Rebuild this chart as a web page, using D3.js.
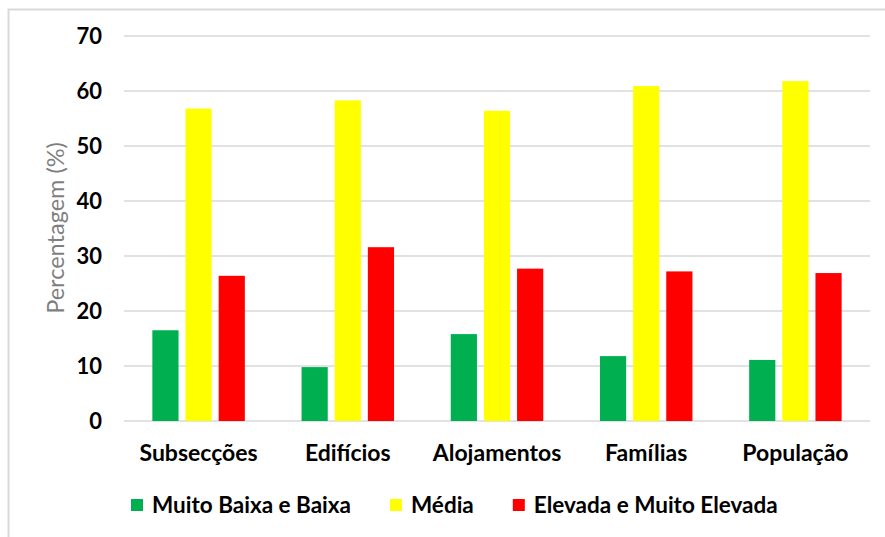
<!DOCTYPE html>
<html>
<head>
<meta charset="utf-8">
<script src="https://cdn.jsdelivr.net/npm/d3@7"></script>
<style>
  html, body { margin: 0; padding: 0; background: #fff; }
  svg { display: block; }
  text { font-family: Lato, "Open Sans", sans-serif; }
</style>
</head>
<body>
<svg id="chart" width="885" height="537"></svg>
<script>
// Categories, series and values (percent)
const categories = ["Subsecções", "Edifícios", "Alojamentos", "Famílias", "População"];
const seriesNames = ["Muito Baixa e Baixa", "Média", "Elevada e Muito Elevada"];
const seriesColors = ["#00b050", "#ffff00", "#ff0000"];
const muitoBaixaBaixa = [16.5, 9.8, 15.8, 11.8, 11.1];
const media = [56.8, 58.3, 56.4, 60.9, 61.8];
const elevadaMuitoElevada = [26.4, 31.6, 27.7, 27.2, 26.9];
const yTicks = [0, 10, 20, 30, 40, 50, 60, 70];
const yTitle = "Percentagem (%)";

const seriesValues = [muitoBaixaBaixa, media, elevadaMuitoElevada];

const svg = d3.select("#chart");

// Chart frame
svg.append("rect")
  .attr("x", 8.5).attr("y", 9.5)
  .attr("width", 900).attr("height", 560)
  .attr("fill", "#fff")
  .attr("stroke", "#d9d9d9")
  .attr("stroke-width", 2);

const plot = { left: 124, right: 870, top: 36, bottom: 421 };

const y = d3.scaleLinear().domain([0, 70]).range([plot.bottom, plot.top]);

const x0 = d3.scaleBand()
  .domain(categories)
  .range([plot.left, plot.right])
  .paddingInner(0.38)
  .paddingOuter(0.19);

const x1 = d3.scaleBand()
  .domain(d3.range(seriesNames.length))
  .range([0, x0.bandwidth()])
  .paddingInner(0.21)
  .paddingOuter(0);

// Gridlines
svg.append("g")
  .selectAll("line")
  .data(yTicks)
  .join("line")
  .attr("x1", plot.left).attr("x2", plot.right)
  .attr("y1", d => y(d)).attr("y2", d => y(d))
  .attr("stroke", "#d9d9d9")
  .attr("stroke-width", 1.5);

// Y axis labels
const yAxis = d3.axisLeft(y).tickValues(yTicks).tickSize(0).tickPadding(0);
const gy = svg.append("g")
  .attr("transform", `translate(102,0)`)
  .call(yAxis);
gy.select(".domain").remove();
gy.selectAll("text")
  .attr("font-family", "Lato, sans-serif")
  .attr("font-size", 22)
  .attr("font-weight", "bold")
  .attr("fill", "#000")
  .attr("dy", "0.35em");

// Y axis title
svg.append("text")
  .attr("transform", `translate(64,228) rotate(-90)`)
  .attr("text-anchor", "middle")
  .attr("font-size", 23.5)
  .attr("fill", "#7f7f7f")
  .text(yTitle);

// Bars
const groups = svg.append("g")
  .selectAll("g")
  .data(categories)
  .join("g")
  .attr("transform", d => `translate(${x0(d)},0)`);

groups.selectAll("rect")
  .data((c, ci) => seriesValues.map((vals, si) => ({ si, v: vals[ci] })))
  .join("rect")
  .attr("x", d => x1(d.si))
  .attr("width", x1.bandwidth())
  .attr("y", d => y(d.v))
  .attr("height", d => y(0) - y(d.v))
  .attr("fill", d => seriesColors[d.si]);

// Category labels
const xAxis = d3.axisBottom(x0).tickSize(0).tickPadding(0);
const gx = svg.append("g")
  .attr("transform", `translate(0,${plot.bottom})`)
  .call(xAxis);
gx.select(".domain").remove();
gx.selectAll("text")
  .attr("font-family", "Lato, sans-serif")
  .attr("font-size", 23)
  .attr("font-weight", "bold")
  .attr("fill", "#000")
  .attr("y", 40)
  .attr("dy", 0);

// Legend
const legend = svg.append("g").attr("transform", "translate(131,505)");
let lx = 0;
seriesNames.forEach((name, i) => {
  const item = legend.append("g").attr("transform", `translate(${lx},0)`);
  item.append("rect")
    .attr("x", 0).attr("y", -6)
    .attr("width", 12).attr("height", 12)
    .attr("fill", seriesColors[i]);
  const t = item.append("text")
    .attr("x", 21).attr("y", 8)
    .attr("font-size", 22.5)
    .attr("font-weight", "bold")
    .attr("fill", "#000")
    .text(name);
  lx += 21 + t.node().getComputedTextLength() + 39;
});
</script>
</body>
</html>
